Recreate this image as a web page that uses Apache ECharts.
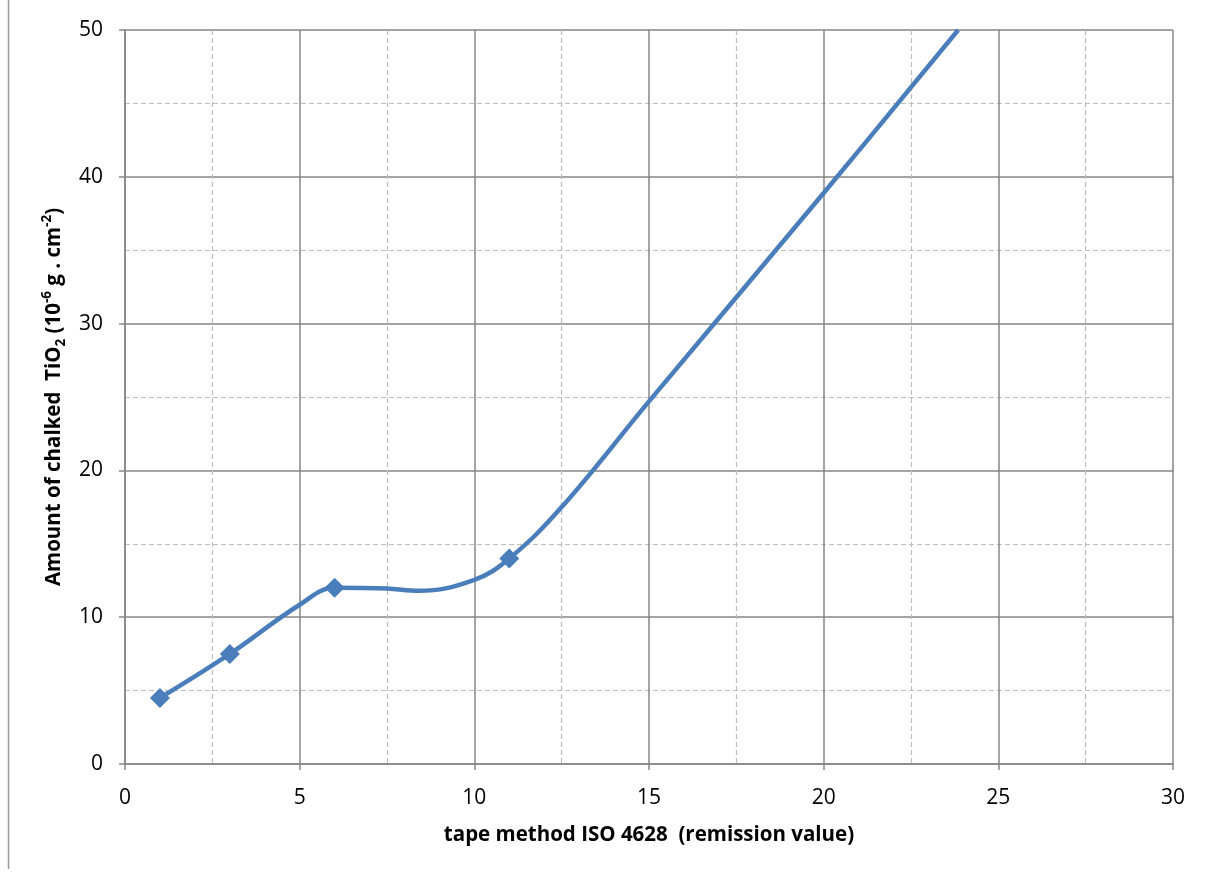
<!DOCTYPE html>
<html>
<head>
<meta charset="utf-8">
<script src="https://cdn.jsdelivr.net/npm/echarts@6/dist/echarts.min.js"></script>
<style>
  html, body { margin: 0; padding: 0; background: #fff; }
  #chart { width: 1213px; height: 874px; }
</style>
</head>
<body>
<div id="chart"></div>
<script>
// Measured points (with diamond markers)
const measuredX = [1, 3, 6, 11];
const measuredY = [4.5, 7.5, 12, 14];

// Smoothed calibration curve
const curveX = [1, 3, 5, 6, 7.5, 8.4, 10, 11, 12.5, 15, 20, 23.85];
const curveY = [4.5, 7.5, 10.85, 12, 11.95, 11.8, 12.55, 14, 17.5, 24.7, 38.9, 50];

// Axis settings
const xTicks = [0, 5, 10, 15, 20, 25, 30];
const yTicks = [0, 10, 20, 30, 40, 50];
const xTitle = 'tape method ISO 4628  (remission value)';

const FONT = '"Open Sans", "Liberation Sans", sans-serif';
const BLUE = '#4a7ebb';
const MAJOR = '#868686';
const MINOR = '#bdbdbd';

const chart = echarts.init(document.getElementById('chart'), null, { renderer: 'canvas' });

const curveData = curveX.map((x, i) => [x, curveY[i]]);
const pointData = measuredX.map((x, i) => [x, measuredY[i]]);

const axisCommon = {
  type: 'value',
  splitNumber: 2,
  axisLine: { show: true, lineStyle: { color: MAJOR, width: 1.5 } },
  axisTick: { show: true, inside: false, length: 6, lineStyle: { color: MAJOR, width: 1.5 } },
  splitLine: { show: true, lineStyle: { color: MAJOR, width: 1.5 } },
  minorTick: { show: false, splitNumber: 2 },
  minorSplitLine: { show: true, lineStyle: { color: MINOR, width: 1.2, type: [5, 3] } }
};

chart.setOption({
  animation: false,
  backgroundColor: '#ffffff',
  grid: { left: 125, right: 40, top: 30, bottom: 110, containLabel: false },
  xAxis: Object.assign({}, axisCommon, {
    min: xTicks[0], max: xTicks[xTicks.length - 1], interval: 5,
    axisLabel: { margin: 24, fontSize: 21, color: '#000', fontFamily: FONT },
    name: xTitle,
    nameLocation: 'middle',
    nameGap: 61,
    nameTextStyle: { fontSize: 20.5, fontWeight: 'bold', color: '#000', fontFamily: FONT }
  }),
  yAxis: Object.assign({}, axisCommon, {
    min: yTicks[0], max: yTicks[yTicks.length - 1], interval: 10,
    axisLabel: { margin: 22, fontSize: 21, color: '#000', fontFamily: FONT },
    name: '{b|Amount of chalked  TiO}{sub|2}{b| (10}{sup|-6}{b| g . cm}{sup|-2}{b|)}',
    nameLocation: 'middle',
    nameGap: 57,
    nameTextStyle: {
      color: '#000', fontFamily: FONT,
      rich: {
        b: { fontSize: 20.5, fontWeight: 'bold', color: '#000', fontFamily: FONT, lineHeight: 28, verticalAlign: 'middle' },
        sub: { fontSize: 13.5, fontWeight: 'bold', color: '#000', fontFamily: FONT, lineHeight: 28, verticalAlign: 'bottom', padding: [11, 0, 0, 0] },
        sup: { fontSize: 13.5, fontWeight: 'bold', color: '#000', fontFamily: FONT, lineHeight: 28, verticalAlign: 'top', padding: [0, 0, 11, 0] }
      }
    }
  }),
  graphic: [{
    type: 'line',
    shape: { x1: 8.5, y1: 0, x2: 8.5, y2: 869 },
    style: { stroke: '#9a9a9a', lineWidth: 1.5 },
    silent: true
  }],
  series: [
    {
      name: 'curve',
      type: 'line',
      data: curveData,
      smooth: 0.4,
      symbol: 'none',
      clip: true,
      lineStyle: { color: BLUE, width: 4.5 },
      z: 3
    },
    {
      name: 'measured',
      type: 'scatter',
      data: pointData,
      symbol: 'diamond',
      symbolSize: [20, 20],
      itemStyle: { color: BLUE, opacity: 1 },
      z: 4
    }
  ]
});
</script>
</body>
</html>
